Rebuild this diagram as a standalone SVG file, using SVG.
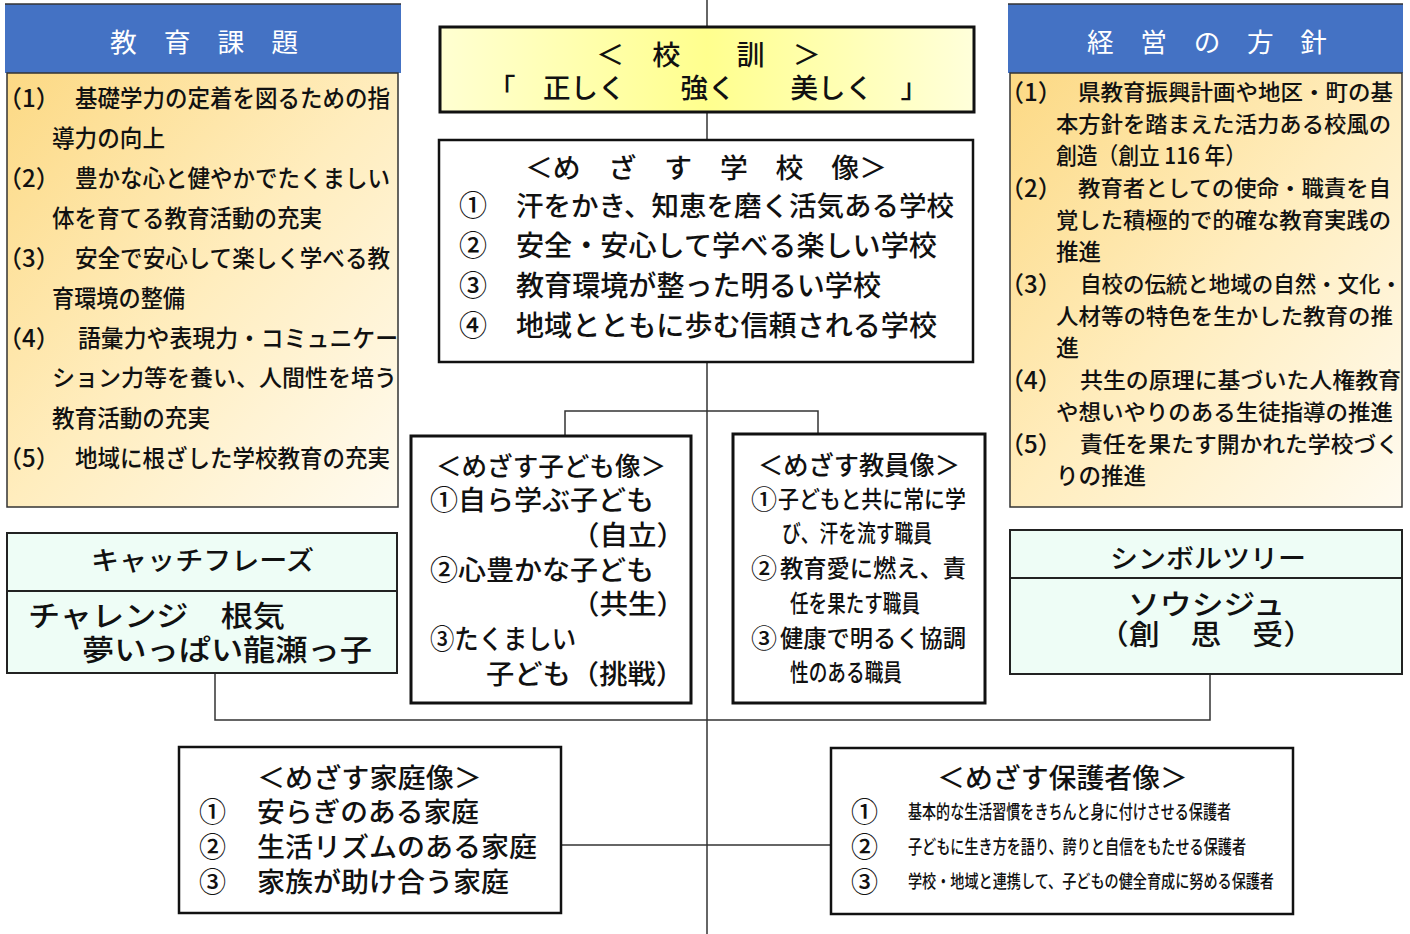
<svg xmlns="http://www.w3.org/2000/svg" width="1410" height="934" viewBox="0 0 1410 934">
<defs>
<linearGradient id="gOrange" x1="0" y1="0" x2="1" y2="1">
<stop offset="0" stop-color="#FCD984"/>
<stop offset="0.5" stop-color="#FFEDBE"/>
<stop offset="1" stop-color="#FFFBF0"/>
</linearGradient>
<linearGradient id="gYellow" x1="0" y1="0" x2="1" y2="0">
<stop offset="0" stop-color="#FFFFD2"/>
<stop offset="0.5" stop-color="#FFFF8E"/>
<stop offset="1" stop-color="#FFFFDA"/>
</linearGradient>
</defs>
<style>
text{font-family:"Noto Sans CJK JP","Noto Sans CJK SC",sans-serif;fill:#111;dominant-baseline:central;font-weight:500}
.hd{fill:#fff;font-size:26px;font-weight:400}
.t24{font-size:24px}
.t23{font-size:23px}
.t22r{font-size:22px}
.t26{font-size:26px}
.t27{font-size:27px}
.t28{font-size:28px}
.t29{font-size:29px}
.t19{font-size:19.5px}
.t18{font-size:18.5px}
.box{fill:#fff;stroke:#111;stroke-width:3}
.ob{fill:url(#gOrange);stroke:#333;stroke-width:1.5}
.mint{fill:#EEFDF6;stroke:#222;stroke-width:2}
.conn{fill:none;stroke:#333;stroke-width:1.5}
</style>

<g id="connectors">
<line class="conn" x1="707" y1="0" x2="707" y2="934"/>
<polyline class="conn" points="565,436 565,411 818,411 818,434"/>
<polyline class="conn" points="215,673 215,720 1210,720 1210,674"/>
<line class="conn" x1="561" y1="845" x2="831" y2="845"/>
</g>

<g id="kyouiku-kadai">
<rect x="5" y="4" width="396" height="69" fill="#4472C4"/>
<line x1="5" y1="4" x2="401" y2="4" stroke="#333" stroke-width="1.5"/>
<text class="hd" x="110" y="40" textLength="188" lengthAdjust="spacingAndGlyphs">教　育　課　題</text>
<rect class="ob" x="7" y="73" width="391" height="434"/>
<text class="t24" x="-2" y="96">（1）</text>
<text class="t24" x="75" y="96" textLength="315" lengthAdjust="spacingAndGlyphs">基礎学力の定着を図るための指</text>
<text class="t24" x="52" y="136" textLength="113" lengthAdjust="spacingAndGlyphs">導力の向上</text>
<text class="t24" x="-2" y="176">（2）</text>
<text class="t24" x="75" y="176" textLength="315" lengthAdjust="spacingAndGlyphs">豊かな心と健やかでたくましい</text>
<text class="t24" x="52" y="216" textLength="270" lengthAdjust="spacingAndGlyphs">体を育てる教育活動の充実</text>
<text class="t24" x="-2" y="256">（3）</text>
<text class="t24" x="75" y="256" textLength="315" lengthAdjust="spacingAndGlyphs">安全で安心して楽しく学べる教</text>
<text class="t24" x="52" y="296" textLength="133" lengthAdjust="spacingAndGlyphs">育環境の整備</text>
<text class="t24" x="-2" y="336">（4）</text>
<text class="t24" x="78" y="336" textLength="320" lengthAdjust="spacingAndGlyphs">語彙力や表現力・コミュニケー</text>
<text class="t23" x="52" y="376" textLength="345" lengthAdjust="spacingAndGlyphs">ション力等を養い、人間性を培う</text>
<text class="t24" x="52" y="416" textLength="158" lengthAdjust="spacingAndGlyphs">教育活動の充実</text>
<text class="t24" x="-2" y="456">（5）</text>
<text class="t24" x="75" y="456" textLength="315" lengthAdjust="spacingAndGlyphs">地域に根ざした学校教育の充実</text>
</g>

<g id="keiei-houshin">
<rect x="1008" y="4" width="395" height="69" fill="#4472C4"/>
<line x1="1008" y1="4" x2="1403" y2="4" stroke="#333" stroke-width="1.5"/>
<text class="hd" x="1087" y="40" textLength="240" lengthAdjust="spacingAndGlyphs">経　営　の　方　針</text>
<rect class="ob" x="1010" y="73" width="392" height="434"/>
<text class="t24" x="1000" y="90">（1）</text>
<text class="t22r" x="1078" y="90" textLength="315" lengthAdjust="spacingAndGlyphs">県教育振興計画や地区・町の基</text>
<text class="t22r" x="1056" y="122" textLength="335" lengthAdjust="spacingAndGlyphs">本方針を踏まえた活力ある校風の</text>
<text class="t23" x="1056" y="154" textLength="190" lengthAdjust="spacingAndGlyphs">創造（創立 116 年）</text>
<text class="t24" x="1000" y="186">（2）</text>
<text class="t22r" x="1078" y="186" textLength="313" lengthAdjust="spacingAndGlyphs">教育者としての使命・職責を自</text>
<text class="t22r" x="1056" y="218" textLength="335" lengthAdjust="spacingAndGlyphs">覚した積極的で的確な教育実践の</text>
<text class="t23" x="1056" y="250" textLength="45" lengthAdjust="spacingAndGlyphs">推進</text>
<text class="t24" x="1000" y="282">（3）</text>
<text class="t22r" x="1080" y="282" textLength="322" lengthAdjust="spacingAndGlyphs">自校の伝統と地域の自然・文化・</text>
<text class="t22r" x="1056" y="314" textLength="337" lengthAdjust="spacingAndGlyphs">人材等の特色を生かした教育の推</text>
<text class="t23" x="1056" y="346" textLength="23" lengthAdjust="spacingAndGlyphs">進</text>
<text class="t24" x="1000" y="378">（4）</text>
<text class="t22r" x="1080" y="378" textLength="321" lengthAdjust="spacingAndGlyphs">共生の原理に基づいた人権教育</text>
<text class="t22r" x="1056" y="410" textLength="337" lengthAdjust="spacingAndGlyphs">や想いやりのある生徒指導の推進</text>
<text class="t24" x="1000" y="442">（5）</text>
<text class="t22r" x="1080" y="442" textLength="319" lengthAdjust="spacingAndGlyphs">責任を果たす開かれた学校づく</text>
<text class="t23" x="1056" y="474" textLength="90" lengthAdjust="spacingAndGlyphs">りの推進</text>
</g>

<g id="koukun">
<rect x="440" y="27" width="534" height="85" fill="url(#gYellow)" stroke="#111" stroke-width="3"/>
<text class="t27" x="596" y="53" textLength="225" lengthAdjust="spacingAndGlyphs">＜　校　　訓　＞</text>
<text class="t27" x="488" y="86" textLength="440" lengthAdjust="spacingAndGlyphs">「　正しく　　強く　　美しく　」</text>
</g>

<g id="mezasu-gakkou">
<rect x="439" y="140" width="534" height="222" fill="#fff" stroke="#111" stroke-width="2.5"/>
<text class="t27" x="525" y="166" textLength="362" lengthAdjust="spacingAndGlyphs">＜め　ざ　す　学　校　像＞</text>
<text class="t28" x="459" y="204">①</text>
<text class="t27" x="516" y="204" textLength="438" lengthAdjust="spacingAndGlyphs">汗をかき、知恵を磨く活気ある学校</text>
<text class="t28" x="459" y="244">②</text>
<text class="t28" x="516" y="244" textLength="421" lengthAdjust="spacingAndGlyphs">安全・安心して学べる楽しい学校</text>
<text class="t28" x="459" y="284">③</text>
<text class="t28" x="516" y="284" textLength="365" lengthAdjust="spacingAndGlyphs">教育環境が整った明るい学校</text>
<text class="t28" x="459" y="324">④</text>
<text class="t28" x="516" y="324" textLength="421" lengthAdjust="spacingAndGlyphs">地域とともに歩む信頼される学校</text>
</g>

<g id="mezasu-kodomo">
<rect class="box" x="411" y="436" width="280" height="267"/>
<text class="t26" x="436" y="464" textLength="230" lengthAdjust="spacingAndGlyphs">＜めざす子ども像＞</text>
<text class="t27" x="430" y="498" textLength="224" lengthAdjust="spacingAndGlyphs">①自ら学ぶ子ども</text>
<text class="t27" x="571" y="533" textLength="114" lengthAdjust="spacingAndGlyphs">（自立）</text>
<text class="t27" x="430" y="568" textLength="224" lengthAdjust="spacingAndGlyphs">②心豊かな子ども</text>
<text class="t27" x="571" y="602" textLength="114" lengthAdjust="spacingAndGlyphs">（共生）</text>
<text class="t27" x="430" y="637" textLength="146" lengthAdjust="spacingAndGlyphs">③たくましい</text>
<text class="t27" x="486" y="672" textLength="198" lengthAdjust="spacingAndGlyphs">子ども（挑戦）</text>
</g>

<g id="mezasu-kyouin">
<rect class="box" x="733" y="434" width="252" height="269"/>
<text class="t26" x="758" y="463" textLength="202" lengthAdjust="spacingAndGlyphs">＜めざす教員像＞</text>
<text class="t26" x="751" y="497">①</text>
<text class="t24" x="778" y="497" textLength="188" lengthAdjust="spacingAndGlyphs">子どもと共に常に学</text>
<text class="t24" x="782" y="531" textLength="150" lengthAdjust="spacingAndGlyphs">び、汗を流す職員</text>
<text class="t26" x="751" y="566">②</text>
<text class="t24" x="780" y="566" textLength="186" lengthAdjust="spacingAndGlyphs">教育愛に燃え、責</text>
<text class="t24" x="790" y="601" textLength="130" lengthAdjust="spacingAndGlyphs">任を果たす職員</text>
<text class="t26" x="751" y="636">③</text>
<text class="t24" x="780" y="636" textLength="186" lengthAdjust="spacingAndGlyphs">健康で明るく協調</text>
<text class="t24" x="790" y="670" textLength="112" lengthAdjust="spacingAndGlyphs">性のある職員</text>
</g>

<g id="catchphrase">
<rect class="mint" x="7" y="533" width="390" height="140"/>
<line x1="7" y1="591" x2="397" y2="591" stroke="#222" stroke-width="2"/>
<text class="t26" x="91" y="558" textLength="223" lengthAdjust="spacingAndGlyphs">キャッチフレーズ</text>
<text class="t29" x="28" y="614" textLength="257" lengthAdjust="spacingAndGlyphs">チャレンジ　根気</text>
<text class="t29" x="82" y="648" textLength="290" lengthAdjust="spacingAndGlyphs">夢いっぱい龍瀬っ子</text>
</g>

<g id="symboltree">
<rect class="mint" x="1010" y="530" width="392" height="144"/>
<line x1="1010" y1="578" x2="1402" y2="578" stroke="#222" stroke-width="2"/>
<text class="t26" x="1110" y="556" textLength="196" lengthAdjust="spacingAndGlyphs">シンボルツリー</text>
<text class="t28" x="1128" y="603" textLength="157" lengthAdjust="spacingAndGlyphs">ソウシジュ</text>
<text class="t28" x="1098" y="633" textLength="216" lengthAdjust="spacingAndGlyphs">（創　思　受）</text>
</g>

<g id="mezasu-katei">
<rect x="179" y="747" width="382" height="166" fill="#fff" stroke="#111" stroke-width="2.5"/>
<text class="t27" x="257" y="776" textLength="225" lengthAdjust="spacingAndGlyphs">＜めざす家庭像＞</text>
<text class="t27" x="199" y="810">①</text>
<text class="t27" x="257" y="810" textLength="222" lengthAdjust="spacingAndGlyphs">安らぎのある家庭</text>
<text class="t27" x="199" y="845">②</text>
<text class="t27" x="257" y="845" textLength="280" lengthAdjust="spacingAndGlyphs">生活リズムのある家庭</text>
<text class="t27" x="199" y="880">③</text>
<text class="t27" x="257" y="880" textLength="252" lengthAdjust="spacingAndGlyphs">家族が助け合う家庭</text>
</g>

<g id="mezasu-hogosha">
<rect x="831" y="748" width="462" height="166" fill="#fff" stroke="#111" stroke-width="2.5"/>
<text class="t27" x="937" y="776" textLength="251" lengthAdjust="spacingAndGlyphs">＜めざす保護者像＞</text>
<text class="t27" x="851" y="810">①</text>
<text class="t19" x="908" y="810" textLength="323" lengthAdjust="spacingAndGlyphs">基本的な生活習慣をきちんと身に付けさせる保護者</text>
<text class="t27" x="851" y="845">②</text>
<text class="t19" x="908" y="845" textLength="338" lengthAdjust="spacingAndGlyphs">子どもに生き方を語り、誇りと自信をもたせる保護者</text>
<text class="t27" x="851" y="880">③</text>
<text class="t18" x="908" y="880" textLength="366" lengthAdjust="spacingAndGlyphs">学校・地域と連携して、子どもの健全育成に努める保護者</text>
</g>
</svg>
